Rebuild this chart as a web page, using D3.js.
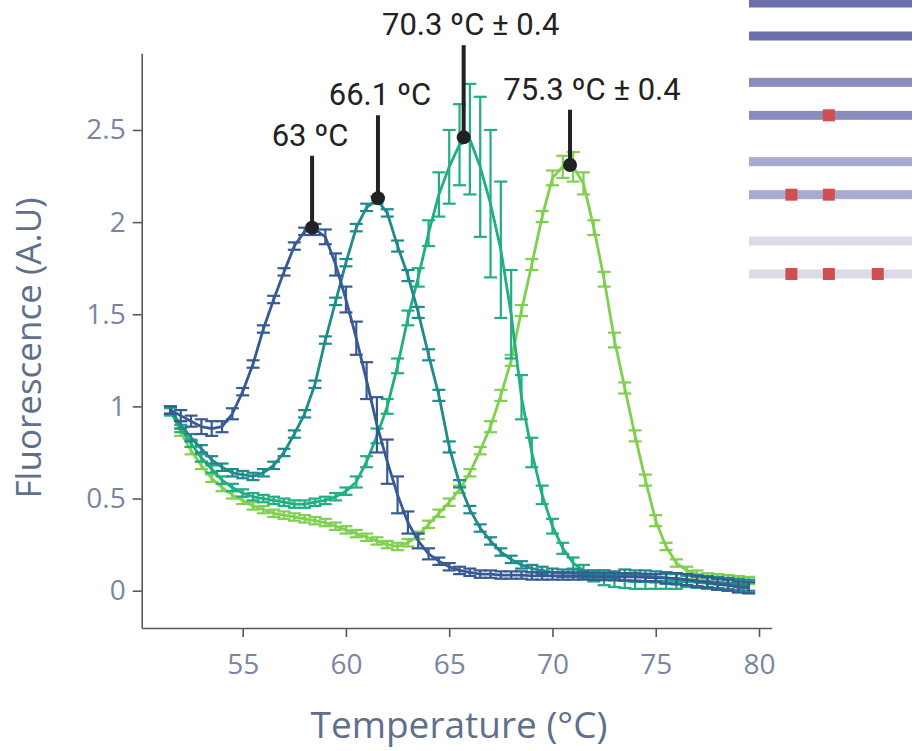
<!DOCTYPE html>
<html>
<head>
<meta charset="utf-8">
<script src="https://cdn.jsdelivr.net/npm/d3@7"></script>
<style>
  html, body { margin: 0; padding: 0; background: #ffffff; }
  svg { display: block; }
</style>
</head>
<body>
<svg id="chart" width="914" height="751"></svg>
<script>
// ---------- DATA ----------
const temperatures = [51.5,52,52.5,53,53.5,54,54.5,55,55.5,56,56.5,57,57.5,58,58.5,59,59.5,60,60.5,61,61.5,62,62.5,63,63.5,64,64.5,65,65.5,66,66.5,67,67.5,68,68.5,69,69.5,70,70.5,71,71.5,72,72.5,73,73.5,74,74.5,75,75.5,76,76.5,77,77.5,78,78.5,79,79.5];

const seriesNames = ["63 ºC", "66.1 ºC", "70.3 ºC", "75.3 ºC"];
const seriesColors = ["#385a94", "#1f8b8b", "#21ae82", "#7fd04f"];

const valuesA = [0.98,0.95,0.92,0.89,0.88,0.89,0.96,1.08,1.23,1.42,1.58,1.73,1.87,1.95,1.96,1.92,1.77,1.58,1.37,1.14,0.90,0.70,0.52,0.37,0.27,0.20,0.16,0.13,0.11,0.10,0.09,0.09,0.085,0.085,0.085,0.08,0.08,0.08,0.08,0.08,0.08,0.078,0.077,0.076,0.075,0.075,0.072,0.07,0.068,0.065,0.06,0.05,0.045,0.035,0.03,0.02,0.015];
const errorsA = [0.02,0.03,0.03,0.04,0.04,0.03,0.03,0.02,0.02,0.02,0.02,0.02,0.02,0.02,0.03,0.04,0.06,0.07,0.09,0.1,0.15,0.12,0.1,0.06,0.04,0.03,0.02,0.02,0.02,0.02,0.02,0.02,0.02,0.02,0.02,0.02,0.02,0.02,0.02,0.02,0.02,0.02,0.02,0.02,0.02,0.02,0.02,0.02,0.03,0.03,0.03,0.03,0.03,0.03,0.03,0.03,0.03];

const valuesB = [0.98,0.90,0.83,0.77,0.71,0.67,0.64,0.63,0.62,0.64,0.68,0.75,0.85,0.96,1.12,1.36,1.57,1.78,1.97,2.08,2.12,2.05,1.87,1.71,1.51,1.28,1.06,0.78,0.58,0.44,0.34,0.27,0.21,0.17,0.14,0.12,0.11,0.10,0.095,0.095,0.09,0.09,0.09,0.085,0.085,0.08,0.08,0.075,0.07,0.065,0.06,0.055,0.05,0.045,0.04,0.035,0.03];
const errorsB = [0.02,0.02,0.02,0.02,0.02,0.02,0.02,0.02,0.02,0.02,0.02,0.02,0.02,0.02,0.02,0.02,0.02,0.02,0.02,0.02,0.02,0.02,0.03,0.03,0.03,0.03,0.03,0.03,0.02,0.02,0.02,0.02,0.02,0.02,0.02,0.02,0.02,0.02,0.02,0.02,0.02,0.02,0.02,0.02,0.03,0.03,0.03,0.03,0.03,0.03,0.03,0.03,0.03,0.03,0.03,0.03,0.03];

const valuesC = [0.97,0.88,0.80,0.72,0.66,0.60,0.56,0.53,0.51,0.50,0.49,0.48,0.47,0.47,0.48,0.49,0.51,0.54,0.59,0.70,0.84,1.00,1.22,1.48,1.70,1.94,2.15,2.30,2.42,2.45,2.30,2.10,1.85,1.50,1.05,0.75,0.52,0.35,0.23,0.15,0.11,0.08,0.07,0.06,0.055,0.05,0.05,0.05,0.05,0.05,0.05,0.045,0.04,0.035,0.03,0.025,0.02];
const errorsC = [0.02,0.02,0.02,0.02,0.02,0.02,0.02,0.02,0.02,0.02,0.02,0.02,0.02,0.02,0.02,0.02,0.02,0.02,0.03,0.03,0.04,0.04,0.04,0.04,0.05,0.07,0.12,0.2,0.22,0.3,0.38,0.4,0.37,0.24,0.12,0.08,0.05,0.04,0.03,0.03,0.03,0.03,0.04,0.04,0.04,0.04,0.04,0.04,0.04,0.04,0.03,0.03,0.03,0.03,0.03,0.03,0.03];

const valuesD = [0.98,0.86,0.76,0.68,0.61,0.56,0.52,0.49,0.46,0.44,0.42,0.41,0.40,0.39,0.38,0.37,0.35,0.33,0.31,0.29,0.27,0.25,0.24,0.26,0.30,0.36,0.42,0.48,0.55,0.64,0.76,0.89,1.06,1.25,1.52,1.77,2.03,2.24,2.30,2.30,2.21,1.97,1.69,1.36,1.10,0.84,0.60,0.38,0.24,0.15,0.11,0.09,0.075,0.07,0.065,0.06,0.055];
const errorsD = [0.02,0.02,0.02,0.02,0.02,0.02,0.02,0.02,0.02,0.02,0.02,0.02,0.02,0.02,0.02,0.02,0.02,0.02,0.02,0.02,0.02,0.02,0.02,0.02,0.02,0.02,0.02,0.02,0.02,0.02,0.02,0.03,0.03,0.03,0.03,0.03,0.03,0.04,0.06,0.08,0.06,0.04,0.04,0.04,0.03,0.03,0.03,0.03,0.02,0.02,0.02,0.02,0.02,0.02,0.02,0.02,0.02];

// annotation: peak markers
const peakTemps  = [58.36, 61.55, 65.7, 70.85];
const peakValues = [1.97, 2.13, 2.46, 2.31];
const peakLineTops = [2.36, 2.58, 2.96, 2.61];
const peakLabels = ["63 ºC", "66.1 ºC", "70.3 ºC ± 0.4", "75.3 ºC ± 0.4"];

// axis ticks
const xTicks = [55, 60, 65, 70, 75, 80];
const yTicks = [0, 0.5, 1, 1.5, 2, 2.5];
const yTickLabels = ["0", "0.5", "1", "1.5", "2", "2.5"];
const xTitle = "Temperature (°C)";
const yTitle = "Fluorescence (A.U)";

// schematic (top right): duplex pairs, mismatches in lower strand (fraction along strand)
const duplexColors = ["#6c70aa", "#8a8cbd", "#a9aacf", "#dbdbea"];
const mismatchSites = [[], [0.49], [0.26, 0.49], [0.26, 0.49, 0.79]];
const mismatchColor = "#cf5050";

// ---------- CHART ----------
const svg = d3.select("#chart");

const x = d3.scaleLinear().domain([50.11, 80.615]).range([141.7, 771.7]);
const y = d3.scaleLinear().domain([-0.2024, 2.916]).range([628, 53.3]);

const tickColor = "#7886a2";
const titleColor = "#5f6f8c";
const axisColor = "#555a60";

// X axis
const gx = svg.append("g")
  .attr("transform", `translate(0,${y(-0.2024)})`)
  .call(d3.axisBottom(x).tickValues(xTicks).tickFormat(d3.format("d")).tickSize(9).tickSizeOuter(0).tickPadding(17));
gx.select(".domain").attr("stroke", axisColor).attr("stroke-width", 1.6);
gx.selectAll(".tick line").attr("stroke", axisColor).attr("stroke-width", 1.6);
gx.selectAll(".tick text")
  .attr("fill", tickColor)
  .style("font-family", "'Open Sans', sans-serif")
  .style("font-size", "28px");

// Y axis
const gy = svg.append("g")
  .attr("transform", `translate(${x(50.11)},0)`)
  .call(d3.axisLeft(y).tickValues(yTicks).tickFormat((d, i) => yTickLabels[i]).tickSize(9).tickSizeOuter(0).tickPadding(7));
gy.select(".domain").attr("stroke", axisColor).attr("stroke-width", 1.6);
gy.selectAll(".tick line").attr("stroke", axisColor).attr("stroke-width", 1.6);
gy.selectAll(".tick text")
  .attr("fill", tickColor)
  .style("font-family", "'Open Sans', sans-serif")
  .style("font-size", "28px");

// Axis titles
svg.append("text")
  .attr("x", 459).attr("y", 738)
  .attr("text-anchor", "middle")
  .attr("fill", titleColor)
  .style("font-family", "'Open Sans', sans-serif")
  .style("font-size", "37px")
  .text(xTitle);

svg.append("text")
  .attr("transform", "translate(41,348) rotate(-90)")
  .attr("text-anchor", "middle")
  .attr("fill", titleColor)
  .style("font-family", "'Open Sans', sans-serif")
  .style("font-size", "35px")
  .text(yTitle);

// Series
const allValues = [valuesA, valuesB, valuesC, valuesD];
const allErrors = [errorsA, errorsB, errorsC, errorsD];
const drawOrder = [3, 2, 1, 0];

const line = d3.line().x(d => x(d.t)).y(d => y(d.v));
const capHalf = 6.5;

drawOrder.forEach(si => {
  const pts = temperatures.map((t, i) => ({ t, v: allValues[si][i], e: allErrors[si][i] }));
  const g = svg.append("g").attr("class", "series");
  const col = seriesColors[si];
  const eb = g.selectAll("g.eb").data(pts).join("g").attr("class", "eb");
  eb.append("line")
    .attr("x1", d => x(d.t)).attr("x2", d => x(d.t))
    .attr("y1", d => y(d.v - d.e)).attr("y2", d => y(d.v + d.e))
    .attr("stroke", col).attr("stroke-width", 2.2);
  eb.append("line")
    .attr("x1", d => x(d.t) - capHalf).attr("x2", d => x(d.t) + capHalf)
    .attr("y1", d => y(d.v + d.e)).attr("y2", d => y(d.v + d.e))
    .attr("stroke", col).attr("stroke-width", 2.2);
  eb.append("line")
    .attr("x1", d => x(d.t) - capHalf).attr("x2", d => x(d.t) + capHalf)
    .attr("y1", d => y(d.v - d.e)).attr("y2", d => y(d.v - d.e))
    .attr("stroke", col).attr("stroke-width", 2.2);
  g.append("path")
    .datum(pts)
    .attr("d", line)
    .attr("fill", "none")
    .attr("stroke", col)
    .attr("stroke-width", 2.8)
    .attr("stroke-linejoin", "round");
});

// Peak annotations
const labelShift = [-2, 2, 7, 22];
const ann = svg.append("g");
peakTemps.forEach((t, i) => {
  ann.append("line")
    .attr("x1", x(t)).attr("x2", x(t))
    .attr("y1", y(peakValues[i])).attr("y2", y(peakLineTops[i]))
    .attr("stroke", "#222").attr("stroke-width", 4);
  ann.append("circle")
    .attr("cx", x(t)).attr("cy", y(peakValues[i]))
    .attr("r", 7).attr("fill", "#222");
  ann.append("text")
    .attr("x", x(t) + labelShift[i]).attr("y", y(peakLineTops[i]) - 10)
    .attr("text-anchor", "middle")
    .attr("fill", "#222")
    .style("font-family", "Roboto, sans-serif")
    .style("font-size", "31px")
    .text(peakLabels[i]);
});

// Schematic of duplexes (top right)
const sx = d3.scaleLinear().domain([0, 1]).range([749, 912]);
const pairY = d3.scalePoint().domain(d3.range(duplexColors.length)).range([3, 241]);
const strandGap = 33;
const strandH = 9;
const sq = 12;
const sch = svg.append("g");
duplexColors.forEach((c, i) => {
  [0, 1].forEach(k => {
    sch.append("rect")
      .attr("x", sx(0)).attr("width", sx(1) - sx(0))
      .attr("y", pairY(i) + k * strandGap - strandH / 2)
      .attr("height", strandH)
      .attr("fill", c);
  });
  mismatchSites[i].forEach(f => {
    sch.append("rect")
      .attr("x", sx(f) - sq / 2).attr("width", sq)
      .attr("y", pairY(i) + strandGap - sq / 2).attr("height", sq)
      .attr("fill", mismatchColor);
  });
});
</script>
</body>
</html>
